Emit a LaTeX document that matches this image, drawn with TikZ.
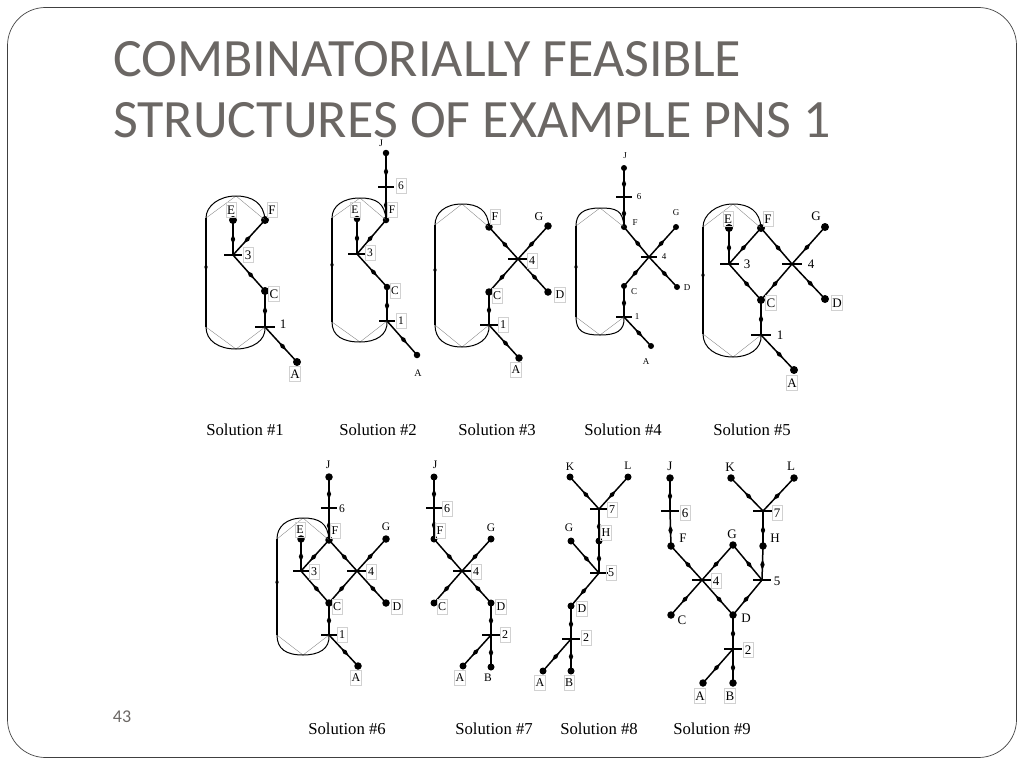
\documentclass[tikz,border=0pt]{standalone}
\usepackage{fontspec}
\setmainfont{Liberation Serif}
\newfontfamily\titlefont{Carlito}
\usetikzlibrary{shapes.geometric}
\definecolor{titlegray}{HTML}{6B6764}
\tikzset{
  matl/.style={circle,fill=black,inner sep=0pt,minimum size=#1},
  matl/.default=8pt,
  opbar/.style={fill=black,inner sep=0pt,minimum height=1.8pt,minimum width=#1},
  opbar/.default=18pt,
  lab/.style={inner sep=1pt,font=\fontsize{#1}{#1}\selectfont},
  lab/.default=12,
  boxlab/.style={lab=#1,draw=black!18,line width=0.5pt,minimum width=10pt,minimum height=15pt},
  boxlab/.default=12,
  caption/.style={font=\fontsize{16.7}{18}\selectfont},
  titleline/.style={anchor=base west,inner sep=0pt,text=titlegray,font=\titlefont\fontsize{54}{60}\selectfont},
  flow/.style={line width=1.5pt},
  flowtip/.style={diamond,fill=black,inner sep=0pt,minimum width=11pt,minimum height=5pt,pos=0.55,sloped},
  loopline/.style={line width=1pt},
  chord/.style={line width=0.35pt,black!50}
}
% top node, bottom node, left x, y of straight part top and bottom, peak x, peak y top and bottom
\newcommand{\recycle}[8]{
  \draw[chord] (#2.center) -- (#6,#8) -- (#3,#5);
  \draw[chord] (#1.center) -- (#6,#7) -- (#3,#4);
  \draw[loopline] (#1.center) .. controls +(-1,-17) and (#6+16,#7) .. (#6,#7) .. controls (#6-17,#7) and (#3,#4-12) .. (#3,#4);
  \draw[loopline] (#3,#5) .. controls (#3,#5+14) and (#6-17,#8) .. (#6,#8) .. controls (#6+16,#8) and ([xshift=1pt,yshift=-14pt]#2.center) .. (#2.center);
  \draw[flow] (#3,#5) -- node[flowtip,minimum width=8pt,minimum height=4pt] {} (#3,#4);
}
\begin{document}
\begin{tikzpicture}[x=1pt,y=-1pt]
  \useasboundingbox (0,0) rectangle (1024,768);
  \draw[line width=0.7pt,black!75,rounded corners=38pt] (7.5,7.5) rectangle (1016.5,757.5);
  \node[titleline] (title1) at (113,77) {COMBINATORIALLY FEASIBLE};
  \node[titleline] (title2) at (113,137) {STRUCTURES OF EXAMPLE PNS 1};
  \node[text=titlegray,inner sep=0pt,font=\titlefont\fontsize{18}{20}\selectfont] (pageno) at (122,717) {43};
  % captions
  \foreach \n/\x/\y in {1/245/430, 2/378/430, 3/497/430, 4/623/430, 5/752/430, 6/347/729, 7/494/729, 8/599/729, 9/712/729}
    \node[caption] (cap\n) at (\x,\y) {Solution \#\n};
  % solution 1
  \foreach \m/\x/\y in {aE/233/220, aF/265/220, aC/265/291, aA/297/362}
    \node[matl] (\m) at (\x,\y) {};
  \node[opbar] (a3) at (233,255) {};
  \node[opbar=20pt] (a1) at (265,327) {};
  \foreach \a/\b in {aE/a3, aF/a3, a3/aC, aC/a1, a1/aA}
    \draw[flow] (\a.center) -- node[flowtip] (\a\b) {} (\b.center);
  \recycle{aF}{a1}{206}{218}{327}{236}{196}{349}
  \foreach \t/\x/\y in {E/231/210, F/272/210, 3/248/255, C/274/294, A/295/374}
    \node[boxlab=13] (aL\t) at (\x,\y) {\t};
  \node[lab=13] (aL1) at (283,324) {1};
  % solution 2
  \foreach \m/\x/\y in {bJ/386/153, bF/386/220, bE/357/219, bC/387/287, bA/417/355}
    \node[matl=6.5pt] (\m) at (\x,\y) {};
  \node[opbar=16pt] (b6) at (386,187) {};
  \node[opbar] (b3) at (357,254) {};
  \node[opbar=16pt] (b1) at (387,321) {};
  \foreach \a/\b in {bJ/b6, b6/bF, bE/b3, bF/b3, b3/bC, bC/b1, b1/bA}
    \draw[flow] (\a.center) -- node[flowtip] (\a\b) {} (\b.center);
  \recycle{bF}{b1}{332}{218}{322}{360}{198}{342}
  \foreach \t/\x/\y in {6/401/186, F/392/210, E/355/210, 3/370/253, C/395/291, 1/401/321}
    \node[boxlab=11.5] (bL\t) at (\x,\y) {\t};
  \foreach \t/\x/\y in {J/381/143, A/418/373}
    \node[lab=10] (bL\t) at (\x,\y) {\t};
  % solution 3
  \foreach \m/\x/\y in {cF/489/227, cG/548/226, cC/489/292, cD/548/292, cA/519/358}
    \node[matl=7.5pt] (\m) at (\x,\y) {};
  \node[opbar=20pt] (c4) at (518,259) {};
  \node[opbar] (c1) at (489,325) {};
  \foreach \a/\b in {cF/c4, cG/c4, c4/cC, c4/cD, cC/c1, c1/cA}
    \draw[flow] (\a.center) -- node[flowtip] (\a\b) {} (\b.center);
  \recycle{cF}{c1}{435}{225}{325}{462}{204}{347}
  \foreach \t/\x/\y in {F/495/217, 4/532/261, C/497/296, D/560/295, 1/503/325, A/516/370}
    \node[boxlab=12] (cL\t) at (\x,\y) {\t};
  \node[lab=12] (cLG) at (539,217) {G};
  % solution 4
  \foreach \m/\x/\y in {dJ/624/168, dF/624/227, dG/676/227, dC/624/286, dD/677/287, dA/651/346}
    \node[matl=6pt] (\m) at (\x,\y) {};
  \node[opbar=16pt] (d6) at (624,197) {};
  \node[opbar=16pt] (d4) at (649,257) {};
  \node[opbar=16pt] (d1) at (624,317) {};
  \foreach \a/\b in {dJ/d6, d6/dF, dF/d4, dG/d4, d4/dC, d4/dD, dC/d1, d1/dA}
    \draw[flow] (\a.center) -- node[flowtip] (\a\b) {} (\b.center);
  \recycle{dF}{d1}{576}{226}{317}{600}{208}{335}
  \foreach \t/\x/\y in {J/625/156, 6/639/197, F/635/223, G/676/213, 4/664/257, C/634/292, D/687/288, 1/637/317, A/646/362}
    \node[lab=9] (dL\t) at (\x,\y) {\t};
  % solution 5
  \foreach \m/\x/\y in {eE/729/228, eF/761/228, eG/825/227, eC/761/300, eD/825/299, eA/794/370}
    \node[matl] (\m) at (\x,\y) {};
  \node[opbar=19pt] (e3) at (729,264) {};
  \node[opbar=20pt] (e4) at (792,264) {};
  \node[opbar=20pt] (e1) at (761,335) {};
  \foreach \a/\b in {eE/e3, eF/e3, eF/e4, eG/e4, e3/eC, e4/eC, e4/eD, eC/e1, e1/eA}
    \draw[flow] (\a.center) -- node[flowtip] (\a\b) {} (\b.center);
  \recycle{eF}{e1}{703}{227}{334}{733}{204}{357}
  \foreach \t/\x/\y in {E/728/219, F/768/219, C/771/303, D/837/303, A/792/383}
    \node[boxlab=13] (eL\t) at (\x,\y) {\t};
  \foreach \t/\x/\y in {G/816/216, 3/747/264, 4/811/264, 1/780/335}
    \node[lab=13] (eL\t) at (\x,\y) {\t};
  % solution 6
  \foreach \m/\x/\y in {fJ/329/477, fF/329/540, fE/301/539, fG/386/539, fC/329/603, fD/386/603, fA/358/666}
    \node[matl=7.5pt] (\m) at (\x,\y) {};
  \node[opbar=16pt] (f6) at (329,508) {};
  \node[opbar=16pt] (f3) at (301,571) {};
  \node[opbar=20pt] (f4) at (357,571) {};
  \node[opbar=16pt] (f1) at (329,635) {};
  \foreach \a/\b in {fJ/f6, f6/fF, fE/f3, fF/f3, fF/f4, fG/f4, f3/fC, f4/fC, f4/fD, fC/f1, f1/fA}
    \draw[flow] (\a.center) -- node[flowtip] (\a\b) {} (\b.center);
  \recycle{fF}{f1}{277}{539}{635}{303}{518}{655}
  \foreach \t/\x/\y in {F/335/531, E/300/530, 3/314/572, 4/371/572, C/337/607, D/397/607, 1/342/635, A/356/678}
    \node[boxlab=12] (fL\t) at (\x,\y) {\t};
  \foreach \t/\x/\y in {J/328/465, 6/342/509, G/386/527}
    \node[lab=11.5] (fL\t) at (\x,\y) {\t};
  % solution 7
  \foreach \m/\x/\y in {gJ/434/477, gF/434/539, gG/491/539, gC/434/603, gD/491/603, gA/463/666, gB/491/667}
    \node[matl=7pt] (\m) at (\x,\y) {};
  \node[opbar=16pt] (g6) at (434,508) {};
  \node[opbar] (g4) at (462,571) {};
  \node[opbar] (g2) at (491,635) {};
  \foreach \a/\b in {gJ/g6, g6/gF, gF/g4, gG/g4, g4/gC, g4/gD, gD/g2, g2/gA, g2/gB}
    \draw[flow] (\a.center) -- node[flowtip] (\a\b) {} (\b.center);
  \foreach \t/\x/\y in {6/447/509, F/440/531, 4/476/572, C/442/607, D/501/607, 2/505/635, A/460/678}
    \node[boxlab=12] (gL\t) at (\x,\y) {\t};
  \foreach \t/\x/\y in {J/435/465, G/491/528, B/488/678}
    \node[lab=11.5] (gL\t) at (\x,\y) {\t};
  % solution 8
  \foreach \m/\x/\y in {hK/570/477, hL/628/477, hH/599/541, hG/571/541, hD/571/606, hA/543/671, hB/571/671}
    \node[matl=7pt] (\m) at (\x,\y) {};
  \node[opbar] (h7) at (599,509) {};
  \node[opbar] (h5) at (599,573) {};
  \node[opbar] (h2) at (571,639) {};
  \foreach \a/\b in {hK/h7, hL/h7, h7/hH, hH/h5, hG/h5, h5/hD, hD/h2, h2/hA, h2/hB}
    \draw[flow] (\a.center) -- node[flowtip] (\a\b) {} (\b.center);
  \foreach \t/\x/\y in {7/612/510, H/606/533, 5/611/573, D/582/609, 2/586/638, A/540/683, B/569/683}
    \node[boxlab=12] (hL\t) at (\x,\y) {\t};
  \foreach \t/\x/\y in {K/570/467, L/628/466, G/569/528}
    \node[lab=11.5] (hL\t) at (\x,\y) {\t};
  % solution 9
  \foreach \m/\x/\y in {iJ/670/478, iF/671/546, iK/731/478, iL/794/478, iH/763/546, iG/733/545, iC/671/615, iD/733/615, iA/703/683, iB/733/683}
    \node[matl=7.5pt] (\m) at (\x,\y) {};
  \node[opbar] (i6) at (670,511) {};
  \node[opbar=20pt] (i7) at (763,511) {};
  \node[opbar=20pt] (i4) at (702,580) {};
  \node[opbar] (i5) at (762,580) {};
  \node[opbar] (i2) at (733,649) {};
  \foreach \a/\b in {iJ/i6, i6/iF, iK/i7, iL/i7, i7/iH, iH/i5, iG/i5, iG/i4, iF/i4, i4/iC, i4/iD, i5/iD, iD/i2, i2/iA, i2/iB}
    \draw[flow] (\a.center) -- node[flowtip] (\a\b) {} (\b.center);
  \foreach \t/\x/\y in {6/685/513, 7/777/513, 4/716/581, 2/748/650, A/700/696, B/730/696}
    \node[boxlab=13] (iL\t) at (\x,\y) {\t};
  \foreach \t/\x/\y in {J/670/466, F/683/538, K/730/467, L/791/466, H/775/538, G/732/534, 5/777/581, C/682/620, D/746/618}
    \node[lab=13] (iL\t) at (\x,\y) {\t};
\end{tikzpicture}
\end{document}
